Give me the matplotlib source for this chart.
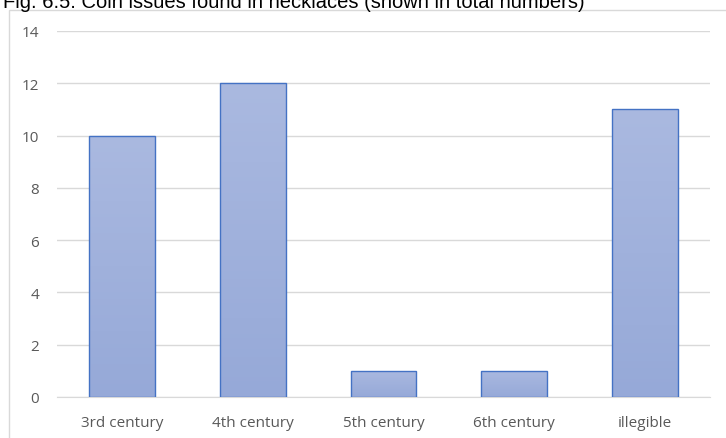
import matplotlib
matplotlib.use("Agg")
import matplotlib.pyplot as plt
from matplotlib.patches import Rectangle
from matplotlib.colors import LinearSegmentedColormap
import numpy as np

categories = ["3rd century", "4th century", "5th century", "6th century", "illegible"]
counts = [10, 12, 1, 1, 11]
yticks = [0, 2, 4, 6, 8, 10, 12, 14]

plt.rcParams['font.family'] = ['Open Sans', 'DejaVu Sans']

fig = plt.figure(figsize=(7.26, 4.39), dpi=100)
W, H = 726, 439

# chart outer border (partly cut off like the reference)
fig.patches.append(Rectangle((8.5 / W, -0.1), 1.0, 1 - 10.5 / H + 0.1, transform=fig.transFigure,
                             fill=False, edgecolor='#d9d9d9', linewidth=1.0))

# title, cut off at the top of the picture as in the reference
fig.text(3 / W, 1 - 8 / H, "Fig. 6.5: Coin issues found in necklaces (shown in total numbers)",
         family='Liberation Sans', fontsize=14.5, color='black', ha='left', va='baseline')

ax = fig.add_axes([57 / W, 1 - 398 / H, 653 / W, 366 / H])
x = np.arange(len(categories))
bars = ax.bar(x, counts, width=0.505, facecolor='none', edgecolor='#4472c4', linewidth=1.0, zorder=3)

# vertical gradient fill in each bar
grad = np.linspace(0, 1, 256).reshape(-1, 1)
cmap = LinearSegmentedColormap.from_list('g', ['#96a9d8', '#aab9e0'])
for b in bars:
    x0, y0 = b.get_x(), b.get_y()
    w, h = b.get_width(), b.get_height()
    im = ax.imshow(grad, extent=[x0, x0 + w, y0, y0 + h], origin='lower', cmap=cmap,
                   aspect='auto', zorder=2)
    im.set_clip_path(b)

ax.set_xlim(-0.5, len(categories) - 0.5)
ax.set_ylim(0, 14)
ax.set_yticks(yticks)
ax.set_xticks(x)
ax.set_xticklabels(categories)
ax.yaxis.grid(True, color='#d9d9d9', linewidth=1.0, zorder=0)
ax.set_axisbelow(True)
for s in ['top', 'right', 'left']:
    ax.spines[s].set_visible(False)
ax.spines['bottom'].set_color('#d9d9d9')
ax.tick_params(axis='both', length=0, labelsize=11, colors='#595959')
ax.tick_params(axis='y', pad=13)
ax.tick_params(axis='x', pad=13)

fig.savefig('out.png', dpi=100)
